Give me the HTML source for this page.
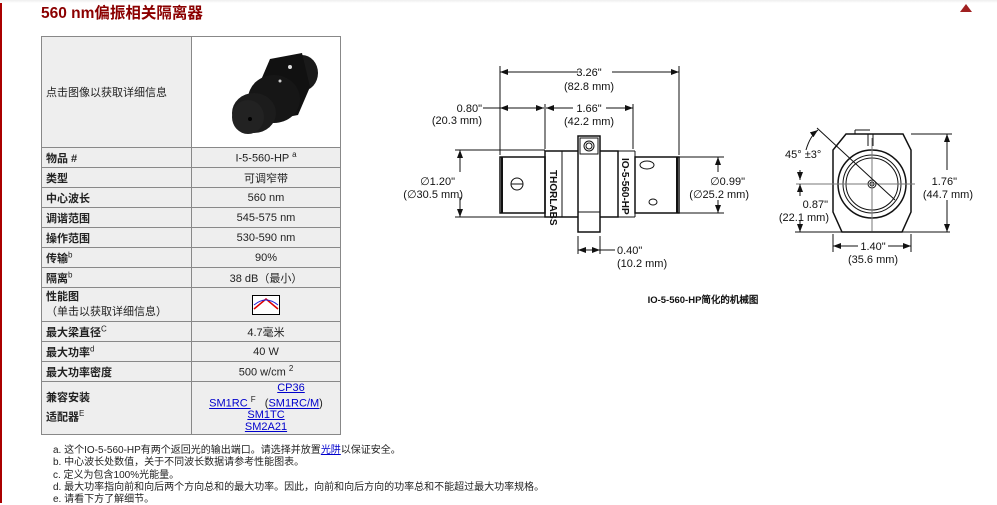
<!DOCTYPE html>
<html><head><meta charset="utf-8"><style>
body{margin:0;width:997px;height:503px;background:#fff;position:relative;overflow:hidden;font-family:"Liberation Sans","Noto Sans CJK SC",sans-serif;font-size:11px;color:#333}
.lb{position:absolute;left:0;top:0;width:2px;height:503px;background:#a00}
.tb{position:absolute;left:0;top:0;width:997px;height:3px;background:linear-gradient(#eee,#fff)}
h1{position:absolute;left:41px;top:1px;margin:0;font-size:15.5px;font-weight:bold;color:#8b0000;font-family:"Liberation Sans","Noto Sans CJK SC",sans-serif}
table{position:absolute;left:41px;top:36px;border-collapse:collapse;width:300px}
td{border:1px solid #888;height:19px;padding:0 4px;font-size:11px;color:#222}
td.l{width:141px;background:#eee;text-align:left}
td.r{background:#eee;text-align:center}
b{font-weight:bold}
a{color:#00c;text-decoration:underline}
sup{font-size:8px}
.fn{position:absolute;left:53px;font-size:10px;color:#222;white-space:nowrap}
svg text{font-family:"Liberation Sans",sans-serif;font-size:11px;fill:#111}
</style></head><body>
<div class="lb"></div><div class="tb"></div>
<h1>560 nm偏振相关隔离器</h1>
<svg style="position:absolute;left:960px;top:4px" width="12" height="8"><polygon points="6,0 12,8 0,8" fill="#a02020"/></svg>
<table>
<tr><td class="l" style="height:107px">点击图像以获取详细信息</td><td style="background:#fff;padding:0">
<svg width="148" height="107" viewBox="0 0 148 107">
<ellipse cx="110" cy="36" rx="16" ry="18" fill="#1a1a1a"/>
<rect x="92" y="20" width="20" height="34" fill="#1a1a1a"/>
<polygon points="78,22 110,16 118,50 106,78 74,84 66,50" fill="#111"/>
<ellipse cx="82" cy="62" rx="26" ry="24" fill="#161616"/>
<ellipse cx="62" cy="76" rx="22" ry="20" fill="#1c1c1c"/>
<ellipse cx="56" cy="80" rx="16" ry="17" fill="#222"/>
<circle cx="58" cy="82" r="2" fill="#000"/>
<circle cx="88" cy="44" r="1.5" fill="#ccc"/><circle cx="98" cy="30" r="2" fill="#ddd"/>
</svg></td></tr>
<tr><td class="l"><b>物品 #</b></td><td class="r">I-5-560-HP <sup>a</sup></td></tr>
<tr><td class="l"><b>类型</b></td><td class="r">可调窄带</td></tr>
<tr><td class="l"><b>中心波长</b></td><td class="r">560 nm</td></tr>
<tr><td class="l"><b>调谐范围</b></td><td class="r">545-575 nm</td></tr>
<tr><td class="l"><b>操作范围</b></td><td class="r">530-590 nm</td></tr>
<tr><td class="l"><b>传输</b><sup>b</sup></td><td class="r">90%</td></tr>
<tr><td class="l"><b>隔离</b><sup>b</sup></td><td class="r">38 dB（最小）</td></tr>
<tr><td class="l" style="height:33px;line-height:15px"><b>性能图</b><br>（单击以获取详细信息）</td><td class="r"><svg width="28" height="20" style="vertical-align:middle"><rect x="0.5" y="0.5" width="27" height="19" fill="#fff" stroke="#000"/><path d="M2 14 L14 4 L26 14" stroke="#d00" fill="none" stroke-width="1.5"/><path d="M2 10 Q14 0 26 10" stroke="#22d" fill="none"/></svg></td></tr>
<tr><td class="l"><b>最大梁直径</b><sup>C</sup></td><td class="r">4.7毫米</td></tr>
<tr><td class="l"><b>最大功率</b><sup>d</sup></td><td class="r">40 W</td></tr>
<tr><td class="l"><b>最大功率密度</b></td><td class="r">500 w/cm <sup>2</sup></td></tr>
<tr><td class="l" style="height:52px;line-height:16px"><b>兼容安装<br>适配器</b><sup>E</sup></td><td class="r" style="line-height:11.5px"><span style="margin-left:50px"><a>CP36</a></span><br><a>SM1RC </a><sup>F</sup> &nbsp; (<a>SM1RC/M</a>)<br><a>SM1TC</a><br><a>SM2A21</a></td></tr>
</table>
<div class="fn" style="top:441px">a. 这个IO-5-560-HP有两个返回光的输出端口。请选择并放置<a>光阱</a>以保证安全。</div>
<div class="fn" style="top:453px">b. 中心波长处数值，关于不同波长数据请参考性能图表。</div>
<div class="fn" style="top:466px">c. 定义为包含100%光能量。</div>
<div class="fn" style="top:478px">d. 最大功率指向前和向后两个方向总和的最大功率。因此，向前和向后方向的功率总和不能超过最大功率规格。</div>
<div class="fn" style="top:490px">e. 请看下方了解细节。</div>

<svg style="position:absolute;left:0;top:0" width="997" height="503">
<defs><marker id="a" viewBox="0 0 8 6" refX="8" refY="3" markerWidth="8" markerHeight="6" orient="auto-start-reverse"><path d="M0 0L8 3L0 6z" fill="#111"/></marker></defs>
<g stroke="#111" fill="none" stroke-width="1">
<line x1="500" y1="66" x2="500" y2="155"/><line x1="679" y1="66" x2="679" y2="155"/>
<line x1="545" y1="104" x2="545" y2="149"/><line x1="633" y1="104" x2="633" y2="149"/>
<line x1="500" y1="72" x2="578" y2="72" marker-start="url(#a)"/><line x1="612" y1="72" x2="679" y2="72" marker-end="url(#a)"/>
<line x1="483" y1="108" x2="500" y2="108"/><line x1="500" y1="108" x2="544" y2="108" marker-start="url(#a)" marker-end="url(#a)"/>
<line x1="546" y1="108" x2="573" y2="108" marker-start="url(#a)"/><line x1="606" y1="108" x2="633" y2="108" marker-end="url(#a)"/>
<line x1="455" y1="150" x2="545" y2="150"/><line x1="455" y1="217" x2="545" y2="217"/>
<line x1="460" y1="150" x2="460" y2="172" marker-start="url(#a)"/><line x1="460" y1="197" x2="460" y2="217" marker-end="url(#a)"/>
<line x1="679" y1="157" x2="724" y2="157"/><line x1="679" y1="213" x2="724" y2="213"/>
<line x1="718" y1="157" x2="718" y2="172" marker-start="url(#a)"/><line x1="718" y1="200" x2="718" y2="213" marker-end="url(#a)"/>
<line x1="578" y1="236" x2="578" y2="254"/><line x1="600" y1="236" x2="600" y2="254"/>
<line x1="578" y1="250" x2="600" y2="250" marker-start="url(#a)" marker-end="url(#a)"/><line x1="600" y1="250" x2="615" y2="250"/>
<rect x="500" y="157" width="45" height="56" stroke-width="1.5"/><line x1="502" y1="157" x2="502" y2="213" stroke-width="2"/>
<rect x="545" y="151" width="73" height="66" stroke-width="1.5"/>
<line x1="562" y1="151" x2="562" y2="217"/>
<rect x="635" y="157" width="44" height="56" stroke-width="1.5"/><line x1="677" y1="157" x2="677" y2="213" stroke-width="2"/>
<line x1="618" y1="151" x2="618" y2="217"/><line x1="635" y1="151" x2="635" y2="217"/><line x1="618" y1="151" x2="635" y2="151"/><line x1="618" y1="217" x2="635" y2="217"/>
<rect x="578" y="136" width="22" height="96" fill="#fff" stroke-width="1.5"/>
<rect x="580" y="138" width="18" height="16"/><circle cx="589" cy="146" r="5"/><circle cx="589" cy="146" r="3"/>
<line x1="578" y1="212" x2="600" y2="212"/>
<circle cx="517" cy="184" r="6"/><line x1="511" y1="184" x2="523" y2="184"/>
<ellipse cx="647" cy="165" rx="7" ry="4"/><ellipse cx="653" cy="202" rx="4" ry="3"/>
<path d="M846 134 L903 134 L911 150 L911 212 L902 232 L842 232 L833 212 L833 150 Z" stroke-width="1.5"/>
<line x1="855" y1="134" x2="855" y2="130"/><line x1="855" y1="130" x2="870" y2="130"/>
<line x1="868" y1="134" x2="868" y2="146"/><line x1="873" y1="134" x2="873" y2="146"/>
<circle cx="872" cy="184" r="34" stroke-width="1.5"/><circle cx="872" cy="184" r="29"/><circle cx="872" cy="184" r="26"/>
<circle cx="872" cy="184" r="4"/><circle cx="872" cy="184" r="2"/>
<line x1="796" y1="184" x2="915" y2="184" stroke="#777"/><line x1="872" y1="138" x2="872" y2="232" stroke="#777"/>
<line x1="817" y1="128" x2="895" y2="200"/>
<line x1="795" y1="232" x2="950" y2="232"/><line x1="911" y1="134" x2="952" y2="134"/>
<line x1="947" y1="134" x2="947" y2="170" marker-start="url(#a)"/><line x1="947" y1="200" x2="947" y2="232" marker-end="url(#a)"/>
<line x1="800" y1="184" x2="800" y2="196" marker-start="url(#a)"/><line x1="800" y1="220" x2="800" y2="232" marker-end="url(#a)"/>
<path d="M800 180 L800 170" marker-start="url(#a)"/><path d="M806 150 Q810 136 818 130" marker-end="url(#a)"/>
<line x1="833" y1="234" x2="833" y2="252"/><line x1="911" y1="234" x2="911" y2="252"/>
<line x1="833" y1="246" x2="858" y2="246" marker-start="url(#a)"/><line x1="888" y1="246" x2="911" y2="246" marker-end="url(#a)"/>
</g>
<text x="589" y="76" text-anchor="middle">3.26"</text><text x="589" y="90" text-anchor="middle">(82.8 mm)</text>
<text x="482" y="112" text-anchor="end">0.80"</text><text x="482" y="124" text-anchor="end">(20.3 mm)</text>
<text x="589" y="112" text-anchor="middle">1.66"</text><text x="589" y="125" text-anchor="middle">(42.2 mm)</text>
<text x="455" y="185" text-anchor="end">∅1.20"</text><text x="463" y="198" text-anchor="end">(∅30.5 mm)</text>
<text x="745" y="185" text-anchor="end">∅0.99"</text><text x="749" y="198" text-anchor="end">(∅25.2 mm)</text>
<text x="617" y="254">0.40"</text><text x="617" y="267">(10.2 mm)</text>
<text transform="translate(550,170) rotate(90)" font-weight="bold" style="font-size:10px">THORLABS</text>
<text transform="translate(622,158) rotate(90)" font-weight="bold" style="font-size:10px">IO-5-560-HP</text>
<text x="785" y="158">45° ±3°</text>
<text x="957" y="185" text-anchor="end">1.76"</text><text x="973" y="198" text-anchor="end">(44.7 mm)</text>
<text x="828" y="208" text-anchor="end">0.87"</text><text x="829" y="221" text-anchor="end">(22.1 mm)</text>
<text x="873" y="250" text-anchor="middle">1.40"</text><text x="873" y="263" text-anchor="middle">(35.6 mm)</text>
<text x="703" y="303" text-anchor="middle" font-weight="bold" style="font-size:9.5px">IO-5-560-HP简化的机械图</text>
</svg>
</body></html>
